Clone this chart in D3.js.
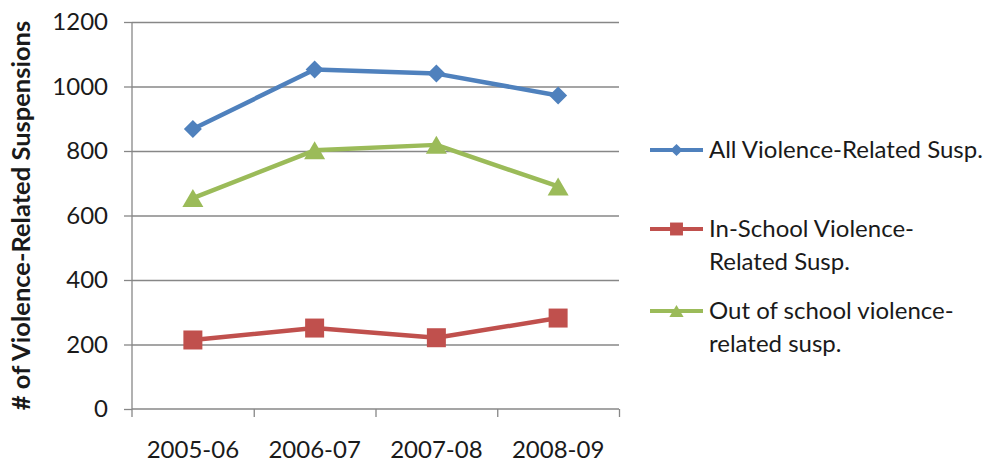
<!DOCTYPE html>
<html>
<head>
<meta charset="utf-8">
<script src="https://cdn.jsdelivr.net/npm/d3@7"></script>
<style>
  html, body { margin: 0; padding: 0; background: #fff; }
  svg { display: block; font-family: Lato, "Open Sans", sans-serif; }
</style>
</head>
<body>
<svg id="chart" width="992" height="463"></svg>
<script>
// Violence-related suspensions by school year
const categories = ["2005-06", "2006-07", "2007-08", "2008-09"];
const allViolence = [868, 1053, 1040, 972];
const inSchool = [214, 251, 221, 282];
const outOfSchool = [654, 802, 819, 690];
const yTicks = [0, 200, 400, 600, 800, 1000, 1200];
const seriesLabels = [
  ["All Violence-Related Susp."],
  ["In-School Violence-", "Related Susp."],
  ["Out of school violence-", "related susp."]
];
const yTitle = "# of Violence-Related Suspensions";

const series = [
  { values: allViolence, color: "#4F81BD", marker: "diamond", label: seriesLabels[0] },
  { values: inSchool, color: "#C0504D", marker: "square", label: seriesLabels[1] },
  { values: outOfSchool, color: "#9BBB59", marker: "triangle", label: seriesLabels[2] }
];

const svg = d3.select("#chart");
const plot = { left: 132, right: 619, top: 22, bottom: 409 };
const gridColor = "#878787";
const textColor = "#1a1a1a";

const x = d3.scaleBand().domain(categories).range([plot.left, plot.right]);
const xEdges = d3.scaleLinear().domain([0, categories.length]).range([plot.left, plot.right]);
const y = d3.scaleLinear().domain([0, 1200]).range([plot.bottom, plot.top]);

// horizontal gridlines
const grid = svg.append("g")
  .attr("transform", `translate(${plot.left},0)`)
  .call(d3.axisLeft(y).tickValues(yTicks.filter(v => v > 0))
    .tickSize(-(plot.right - plot.left)).tickFormat(""));
grid.select(".domain").remove();
grid.selectAll("line").attr("stroke", gridColor).attr("stroke-width", 1.3);

// y axis
const yAxis = svg.append("g")
  .attr("transform", `translate(${plot.left},0)`)
  .call(d3.axisLeft(y).tickValues(yTicks).tickFormat(d3.format("d"))
    .tickSize(8).tickPadding(16));
yAxis.select(".domain").attr("d", `M0,${plot.top}V${plot.bottom + 8}`)
  .attr("stroke", gridColor).attr("stroke-width", 1.3);
yAxis.selectAll("line").attr("stroke", gridColor).attr("stroke-width", 1.3);
yAxis.selectAll("text").attr("fill", textColor).style("font-size", "24px")
  .style("font-family", "Lato, sans-serif");

// x axis line and boundary ticks
const xTicks = svg.append("g")
  .attr("transform", `translate(0,${plot.bottom})`)
  .call(d3.axisBottom(xEdges).tickValues(d3.range(1, categories.length + 1))
    .tickSize(8).tickFormat(""));
xTicks.select(".domain").attr("d", `M${plot.left},0H${plot.right}`)
  .attr("stroke", gridColor).attr("stroke-width", 1.3);
xTicks.selectAll("line").attr("stroke", gridColor).attr("stroke-width", 1.3);

// category labels
const xAxis = svg.append("g")
  .attr("transform", `translate(0,${plot.bottom})`)
  .call(d3.axisBottom(x).tickSize(0).tickPadding(32));
xAxis.select(".domain").remove();
xAxis.selectAll("text").attr("fill", textColor).style("font-size", "24px")
  .style("font-family", "Lato, sans-serif");

// y axis title
svg.append("text")
  .attr("transform", `translate(30,${(plot.top + plot.bottom) / 2}) rotate(-90)`)
  .attr("text-anchor", "middle")
  .attr("fill", textColor)
  .style("font-size", "25.5px")
  .style("font-weight", "bold")
  .text(yTitle);

// marker shapes
function markerPath(kind, scale) {
  if (kind === "diamond") {
    const r = 9 * scale;
    return `M0,${-r}L${r},0L0,${r}L${-r},0Z`;
  }
  if (kind === "square") {
    const h = 9.5 * scale;
    return `M${-h},${-h}H${h}V${h}H${-h}Z`;
  }
  const w = 10.5 * scale, h = 9 * scale;
  return `M0,${-h}L${w},${h}L${-w},${h}Z`;
}

const line = d3.line()
  .x((d, i) => x(categories[i]) + x.bandwidth() / 2)
  .y(d => y(d));

series.forEach(s => {
  const g = svg.append("g");
  g.append("path")
    .attr("d", line(s.values))
    .attr("fill", "none")
    .attr("stroke", s.color)
    .attr("stroke-width", 4.5)
    .attr("stroke-linejoin", "round");
  g.selectAll("path.marker")
    .data(s.values)
    .join("path")
    .attr("class", "marker")
    .attr("transform", (d, i) => `translate(${x(categories[i]) + x.bandwidth() / 2},${y(d)})`)
    .attr("d", markerPath(s.marker, 1))
    .attr("fill", s.color);
});

// legend
const legendRows = [150, 229, 311];
const lineGap = 33;
series.forEach((s, i) => {
  const cy = legendRows[i];
  const g = svg.append("g");
  g.append("line")
    .attr("x1", 650).attr("x2", 703)
    .attr("y1", cy).attr("y2", cy)
    .attr("stroke", s.color).attr("stroke-width", 4);
  g.append("path")
    .attr("transform", `translate(676.5,${cy})`)
    .attr("d", markerPath(s.marker, 0.68))
    .attr("fill", s.color);
  const t = g.append("text")
    .attr("x", 709)
    .attr("y", cy)
    .attr("fill", textColor)
    .style("font-size", "24px");
  s.label.forEach((ln, k) => {
    t.append("tspan")
      .attr("x", 709)
      .attr("y", cy + k * lineGap)
      .attr("dy", "0.35em")
      .text(ln);
  });
});
</script>
</body>
</html>
